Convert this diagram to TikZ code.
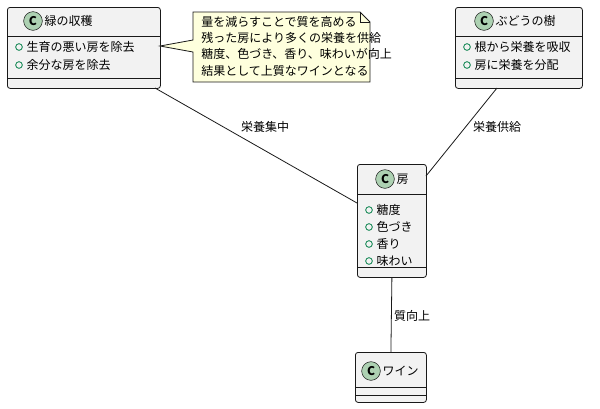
\documentclass[tikz,border=0pt]{standalone}
\usepackage{fontspec}
\newfontfamily\jp{Noto Sans CJK JP}
\begin{document}
\begin{tikzpicture}[x=0.75pt,y=-0.75pt,font=\jp\fontsize{9}{11}\selectfont,
  cls/.style={draw=black!90,fill=black!5,line width=0.6pt,rounded corners=2pt,anchor=north west,inner sep=0pt},
  circ/.style={circle,draw=black!90,fill=green!30!black!20!white,fill=cgreen,minimum size=14pt,inner sep=0pt,font=\jp\bfseries\fontsize{9}{9}\selectfont},
  dot/.style={circle,draw=dotc,line width=0.6pt,minimum size=5pt,inner sep=0pt},
  lbl/.style={inner sep=1pt,anchor=west},
  edge/.style={line width=0.6pt,draw=black!90}]
\definecolor{cgreen}{HTML}{ADD1B2}
\definecolor{dotc}{HTML}{038048}
\useasboundingbox (0,0) rectangle (600,408);
% helper macro for class
\newcommand{\myclass}[6]{% name, x, y, w, h, headerh
  \node[cls,minimum width=#4*0.75pt,minimum height=#5*0.75pt] (#1) at (#2,#3) {};
  \draw[line width=0.6pt,black!90] (#2,#3+#6) -- ++(#4,0);
  \draw[line width=0.6pt,black!90] (#2,#3+#5-10) -- ++(#4,0);
}
\myclass{g}{7}{7}{153}{81}{29}
\node[circ] (gc) at (33,21) {C}; \node[lbl] (gt) at (43,21) {緑の収穫};
\node[dot] (g1) at (19,47) {}; \node[lbl] (g1t) at (25,47) {生育の悪い房を除去};
\node[dot] (g2) at (19,65) {}; \node[lbl] (g2t) at (25,65) {余分な房を除去};

\myclass{b}{455}{7}{127}{81}{29}
\node[circ] (bc) at (484,21) {C}; \node[lbl] (bt) at (494,21) {ぶどうの樹};
\node[dot] (b1) at (467,47) {}; \node[lbl] (b1t) at (473,47) {根から栄養を吸収};
\node[dot] (b2) at (467,65) {}; \node[lbl] (b2t) at (473,65) {房に栄養を分配};

\myclass{f}{357}{164}{69}{113}{30}
\node[circ] (fc) at (385,179) {C}; \node[lbl] (ft) at (395,179) {房};
\node[dot] (f1) at (369,210) {}; \node[lbl] (f1t) at (375,210) {糖度};
\node[dot] (f2) at (369,227) {}; \node[lbl] (f2t) at (375,227) {色づき};
\node[dot] (f3) at (369,244) {}; \node[lbl] (f3t) at (375,244) {香り};
\node[dot] (f4) at (369,261) {}; \node[lbl] (f4t) at (375,261) {味わい};

\node[cls,minimum width=71*0.75pt,minimum height=50*0.75pt] (w) at (355,352) {};
\draw[line width=0.6pt,black!90] (355,387) -- ++(71,0);
\draw[line width=0.6pt,black!90] (355,395) -- ++(71,0);
\node[circ] (wc) at (371,371) {C}; \node[lbl] (wt) at (381,371) {ワイン};

% note
\coordinate (n0) at (193,12);
\draw[line width=0.6pt,black!90,fill=yellow!10!white,fill={rgb,255:red,254;green,255;blue,221}]
  (193,12) -- (360,12) -- (370,22) -- (370,82) -- (193,82) -- (193,52) -- (160,46) -- (193,40) -- cycle;
\draw[line width=0.6pt,black!90] (360,12) -- (360,22) -- (370,22);
\node[anchor=north west,inner sep=0pt,align=left,font=\jp\fontsize{9}{12.2}\selectfont] (nt) at (201,16) {量を減らすことで質を高める\\残った房により多くの栄養を供給\\糖度、色づき、香り、味わいが向上\\結果として上質なワインとなる};

% edges
\draw[edge] (g.south) ++(78-2,0) coordinate (ga);
\draw[edge] (155,88) -- (357,203);
\node (l1) at (265,127) {栄養集中};
\draw[edge] (497,88) -- (426,176);
\node (l2) at (497,127) {栄養供給};
\draw[edge] (f.south) -- (w.north);
\node (l3) at (412,316) {質向上};
\end{tikzpicture}
\end{document}
